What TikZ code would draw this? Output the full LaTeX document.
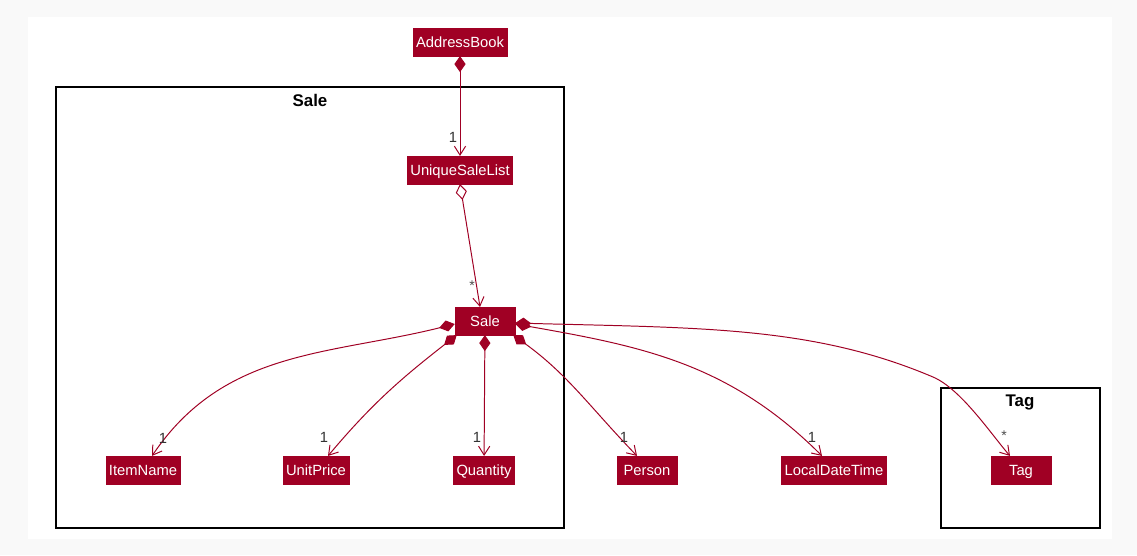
\documentclass[tikz,border=0pt]{standalone}
\usepackage{fontspec}
\setmainfont{Liberation Sans}
\usetikzlibrary{arrows.meta,positioning}
\definecolor{clsred}{HTML}{A00024}
\definecolor{pagegrey}{HTML}{F9F9F9}
\tikzset{
  cls/.style={fill=clsred,draw=clsred,text=white,font=\fontsize{10.5}{12}\selectfont,
    minimum width=1.5cm,minimum height=0.69cm,inner xsep=0.075cm,inner ysep=0pt,
    text height=7.5pt,text depth=0pt},
  comp/.style={draw=clsred,line width=0.7pt,
    {Diamond[length=0.4cm,width=0.28cm]}-{Straight Barb[length=0.22cm,width=0.28cm]}},
  aggr/.style={draw=clsred,line width=0.7pt,
    {Diamond[open,length=0.4cm,width=0.28cm]}-{Straight Barb[length=0.22cm,width=0.28cm]}},
  mult/.style={font=\fontsize{10.5}{12}\selectfont,text=black!80,inner sep=0pt},
  star/.style={font=\fontsize{10}{11}\selectfont,text=black!70,inner sep=0pt},
  pkg/.style={draw=black,line width=1pt},
  pkgtitle/.style={font=\bfseries\fontsize{12}{14}\selectfont,inner sep=0pt}
}
\begin{document}
\begin{tikzpicture}[x=0.025cm,y=0.025cm]
  \fill[pagegrey] (0,0) rectangle (1137,-555);
  \fill[white] (28,-17) rectangle (1112,-539);
  % packages
  \draw[pkg] (56,-87) rectangle (564,-528);
  \node[pkgtitle] (saletitle) at (310,-100) {Sale};
  \draw[pkg] (941,-388) rectangle (1100,-528);
  \node[pkgtitle] (tagtitle) at (1020,-402) {Tag};
  % classes
  \node[cls] (addressbook) at (460,-42) {AddressBook};
  \node[cls] (uniquesalelist) at (460,-170) {UniqueSaleList};
  \node[cls] (sale) at (485,-321) {Sale};
  \node[cls] (itemname) at (143,-470) {ItemName};
  \node[cls] (unitprice) at (316,-470) {UnitPrice};
  \node[cls] (quantity) at (484,-470) {Quantity};
  \node[cls] (person) at (647,-470) {Person};
  \node[cls] (localdatetime) at (834,-470) {LocalDateTime};
  \node[cls] (tag) at (1021,-470) {Tag};
  % associations
  \draw[comp] (addressbook) -- (uniquesalelist);
  \draw[aggr] (uniquesalelist.south) -- ([shift={(-5,0)}]sale.north);
  \draw[comp] ([shift={(0,-3)}]sale.west) to[out=194,in=56] ([shift={(9,0)}]itemname.north);
  \draw[comp] ([shift={(2,0)}]sale.south west) to[out=218,in=50] ([shift={(12,0)}]unitprice.north);
  \draw[comp] (sale) -- (quantity);
  \draw[comp] ([shift={(-2,0)}]sale.south east) to[out=-36,in=134] ([shift={(-10,0)}]person.north);
  \draw[comp] ([shift={(0,-3)}]sale.east) to[out=-10,in=135] ([shift={(-12,0)}]localdatetime.north);
  \draw[comp] ([shift={(0,-2)}]sale.east) .. controls (700,-328) and (813,-326) .. (933,-377)
    .. controls (961,-389) and (991,-434) .. ([shift={(-11,0)}]tag.north);
  % multiplicities
  \node[mult] (m1) at (453,-137) {1};
  \node[star] (m2) at (472,-286) {*};
  \node[mult] (m3) at (163,-438) {1};
  \node[mult] (m4) at (324,-437) {1};
  \node[mult] (m5) at (477,-437) {1};
  \node[mult] (m6) at (624,-437) {1};
  \node[mult] (m7) at (812,-437) {1};
  \node[star] (m8) at (1004,-436) {*};
\end{tikzpicture}
\end{document}
